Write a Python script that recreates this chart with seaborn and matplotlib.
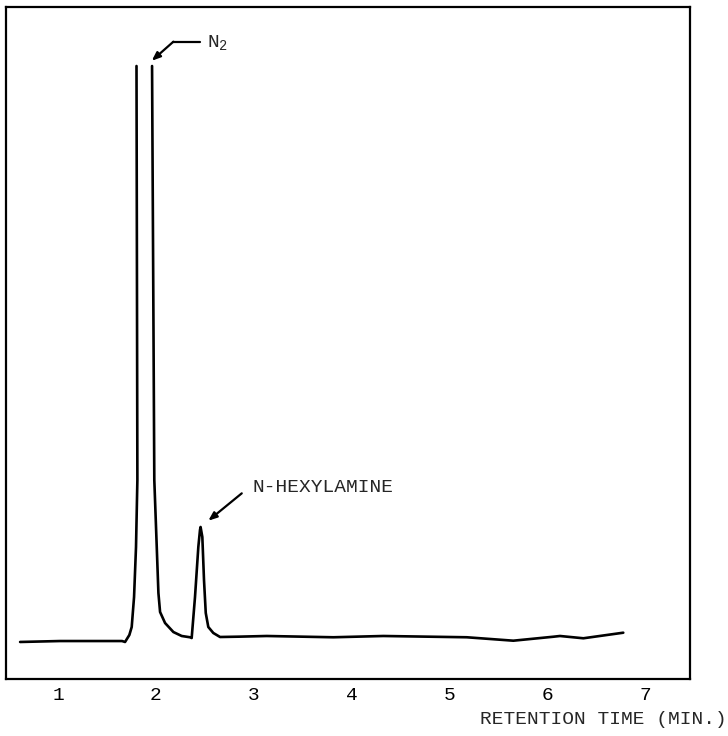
import numpy as np
import pandas as pd
import matplotlib
matplotlib.use("Agg")
import matplotlib.pyplot as plt
import seaborn as sns

# chromatogram trace (minutes, detector response, arbitrary units)
# segment 0 runs up the N2 peak until the pen goes off scale, segment 1 comes back down
seg0_time = [0.612, 1.020, 1.429, 1.654, 1.685, 1.729, 1.753, 1.777, 1.797, 1.811, 1.802]
seg0_resp = [5.51, 5.65, 5.65, 5.65, 5.51, 6.55, 7.74, 12.20, 19.64, 29.61, 91.22]

seg1_time = [1.961, 1.984, 2.009, 2.026, 2.043, 2.094, 2.179, 2.264, 2.349, 2.366,
             2.400, 2.434, 2.451, 2.457, 2.475, 2.492, 2.510, 2.536, 2.587, 2.656,
             2.850, 3.133, 3.814, 4.325, 5.178, 5.654, 6.063, 6.131, 6.370, 6.778]
seg1_resp = [91.22, 29.61, 19.64, 12.80, 9.97, 8.33, 6.99, 6.40, 6.21, 6.10,
             12.20, 19.64, 22.17, 22.62, 21.13, 14.73, 9.82, 7.74, 6.85, 6.25,
             6.30, 6.40, 6.21, 6.40, 6.21, 5.70, 6.29, 6.40, 6.06, 6.89]

ticks = [1, 2, 3, 4, 5, 6, 7]

df = pd.DataFrame({
    "time": seg0_time + seg1_time,
    "resp": seg0_resp + seg1_resp,
    "seg": [0] * len(seg0_time) + [1] * len(seg1_time),
})

sns.set_style("white")
plt.rcParams["font.family"] = ["Liberation Mono", "DejaVu Sans Mono"]
plt.rcParams["mathtext.fontset"] = "custom"
plt.rcParams["mathtext.rm"] = "Liberation Mono"

fig = plt.figure(figsize=(7.28, 7.36), dpi=100)
ax = fig.add_axes([6 / 728, 1 - 679 / 736, 684 / 728, 672 / 736])

sns.lineplot(data=df, x="time", y="resp", units="seg", estimator=None, sort=False,
             color="black", linewidth=1.9, ax=ax, legend=False)

ax.set_xlim(0.468, 7.46)
ax.set_ylim(0, 100)
ax.set_xticks(ticks)
ax.set_xticklabels([str(t) for t in ticks], fontsize=14)
ax.set_yticks([])
ax.tick_params(axis="x", direction="in", length=8, width=1.6, pad=6, colors="black")
ax.set_ylabel("")
for sp in ax.spines.values():
    sp.set_linewidth(1.6)
    sp.set_color("black")

ax.set_xlabel("RETENTION TIME (MIN.)", fontsize=14, ha="right", va="center")
ax.xaxis.set_label_coords(1.054, -0.061)

# N2 label with bent leader
ax.plot([2.179, 2.452], [94.84, 94.84], color="black", lw=1.6)
ax.annotate("", xy=(1.958, 92.0), xytext=(2.179, 94.84),
            arrowprops=dict(arrowstyle="-|>,head_length=0.5,head_width=0.2",
                            color="black", lw=1.6, shrinkA=0, shrinkB=0))
ax.text(2.52, 94.6, r"N$_2$", fontsize=14, ha="left", va="center")

# N-hexylamine label
ax.annotate("", xy=(2.536, 23.56), xytext=(2.878, 27.63),
            arrowprops=dict(arrowstyle="-|>,head_length=0.5,head_width=0.2",
                            color="black", lw=1.6, shrinkA=0, shrinkB=0))
ax.text(2.99, 28.5, "N-HEXYLAMINE", fontsize=14, ha="left", va="center")

fig.savefig("out.png", dpi=100)
